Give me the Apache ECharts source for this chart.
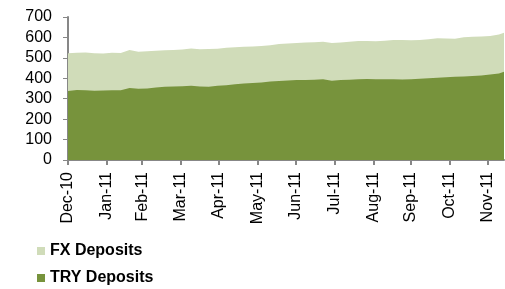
<!DOCTYPE html>
<html>
<head>
<meta charset="utf-8">
<script src="https://cdn.jsdelivr.net/npm/echarts@6/dist/echarts.min.js"></script>
<style>
  html, body { margin: 0; padding: 0; background: #fff; }
  #deposits_chart { width: 505px; height: 289px; }
</style>
</head>
<body>
<div id="deposits_chart"></div>
<script>
// weekly observations (Fridays)
var weeks = [
  '2010-12-31',
  '2011-01-07', '2011-01-14', '2011-01-21', '2011-01-28',
  '2011-02-04', '2011-02-11', '2011-02-18', '2011-02-25',
  '2011-03-04', '2011-03-11', '2011-03-18', '2011-03-25',
  '2011-04-01', '2011-04-08', '2011-04-15', '2011-04-22', '2011-04-29',
  '2011-05-06', '2011-05-13', '2011-05-20', '2011-05-27',
  '2011-06-03', '2011-06-10', '2011-06-17', '2011-06-24',
  '2011-07-01', '2011-07-08', '2011-07-15', '2011-07-22', '2011-07-29',
  '2011-08-05', '2011-08-12', '2011-08-19', '2011-08-26',
  '2011-09-02', '2011-09-09', '2011-09-16', '2011-09-23', '2011-09-30',
  '2011-10-07', '2011-10-14', '2011-10-21', '2011-10-28',
  '2011-11-04', '2011-11-11', '2011-11-18', '2011-11-25',
  '2011-12-02', '2011-12-09', '2011-12-16'
];

var tryDeposits = [
  338, 343, 341, 339, 340, 341, 341, 353, 349, 350,
  355, 358, 360, 361, 363, 360, 359, 363, 366, 371,
  374, 377, 379, 384, 387, 389, 391, 392, 393, 395,
  388, 391, 393, 395, 396, 395, 395, 395, 394, 395,
  398, 400, 403, 405, 407, 409, 411, 414, 418, 424,
  438
];

var fxDeposits = [
  184, 182, 185, 184, 181, 184, 183, 185, 181, 182,
  180, 179, 179, 180, 183, 182, 184, 182, 183, 181,
  180, 179, 179, 178, 181, 181, 182, 183, 184, 184,
  185, 184, 186, 188, 186, 186, 189, 192, 193, 191,
  190, 191, 193, 190, 187, 192, 192, 191, 189, 190,
  192
];

// month-end ticks on the date axis
var tickDates = [
  '2010-12-31', '2011-01-31', '2011-02-28', '2011-03-31', '2011-04-30', '2011-05-31',
  '2011-06-30', '2011-07-31', '2011-08-31', '2011-09-30', '2011-10-31', '2011-11-30'
];
var tickLabels = [
  'Dec-10', 'Jan-11', 'Feb-11', 'Mar-11', 'Apr-11', 'May-11',
  'Jun-11', 'Jul-11', 'Aug-11', 'Sep-11', 'Oct-11', 'Nov-11'
];

var axisStart = '2010-12-31';
var axisEnd = '2011-12-13';

// x is counted in days from axisStart (value axis, so custom ticks work)
function dayOf(s) {
  var p = s.split('-');
  var t = Date.UTC(+p[0], +p[1] - 1, +p[2]);
  var a = axisStart.split('-');
  var t0 = Date.UTC(+a[0], +a[1] - 1, +a[2]);
  return Math.round((t - t0) / 86400000);
}

var tickDays = tickDates.map(dayOf);

// stacking by hand: the FX area is drawn up to TRY + FX, TRY is laid over it
var tryPoints = tryDeposits.map(function (v, i) { return [dayOf(weeks[i]), v]; });
var fxTopPoints = fxDeposits.map(function (v, i) { return [dayOf(weeks[i]), tryDeposits[i] + v]; });

var axisGrey = '#878787';
var font = 'Liberation Sans, Arial, sans-serif';

var chart = echarts.init(document.getElementById('deposits_chart'));

var option = {
  animation: false,
  grid: {
    left: 68,
    right: 1,
    top: 17,
    bottom: 129,
    containLabel: false,
    outerBoundsMode: 'none'
  },
  legend: {
    orient: 'vertical',
    left: 32,
    top: 238,
    height: 50,
    itemWidth: 8,
    itemHeight: 8,
    itemGap: 11,
    icon: 'rect',
    data: ['FX Deposits', 'TRY Deposits'],
    textStyle: {
      fontFamily: font,
      fontSize: 16,
      fontWeight: 'bold',
      color: '#000'
    }
  },
  xAxis: {
    type: 'value',
    min: 0,
    max: dayOf(axisEnd),
    splitLine: { show: false },
    axisLine: { show: true, onZero: false, lineStyle: { color: axisGrey, width: 2 } },
    axisTick: {
      show: true,
      customValues: tickDays,
      length: 5,
      lineStyle: { color: axisGrey, width: 2 }
    },
    axisLabel: {
      customValues: tickDays,
      rotate: 90,
      margin: 12,
      fontFamily: font,
      fontSize: 16,
      color: '#000',
      formatter: function (val) {
        var idx = tickDays.indexOf(val);
        return idx >= 0 ? tickLabels[idx] : '';
      }
    }
  },
  yAxis: {
    type: 'value',
    min: 0,
    max: 700,
    interval: 100,
    splitLine: { show: false },
    axisLine: { show: true, lineStyle: { color: axisGrey, width: 2 } },
    axisTick: { show: true, length: 5, lineStyle: { color: axisGrey, width: 1 } },
    axisLabel: {
      margin: 16,
      fontFamily: font,
      fontSize: 16,
      color: '#000'
    }
  },
  series: [
    {
      name: 'FX Deposits',
      type: 'line',
      symbol: 'none',
      z: 1,
      lineStyle: { width: 0 },
      itemStyle: { color: '#D0DCB9' },
      areaStyle: { color: '#D0DCB9', opacity: 1 },
      data: fxTopPoints
    },
    {
      name: 'TRY Deposits',
      type: 'line',
      symbol: 'none',
      z: 2,
      lineStyle: { width: 0 },
      itemStyle: { color: '#77933C' },
      areaStyle: { color: '#77933C', opacity: 1 },
      data: tryPoints
    }
  ]
};

chart.setOption(option);
</script>
</body>
</html>
